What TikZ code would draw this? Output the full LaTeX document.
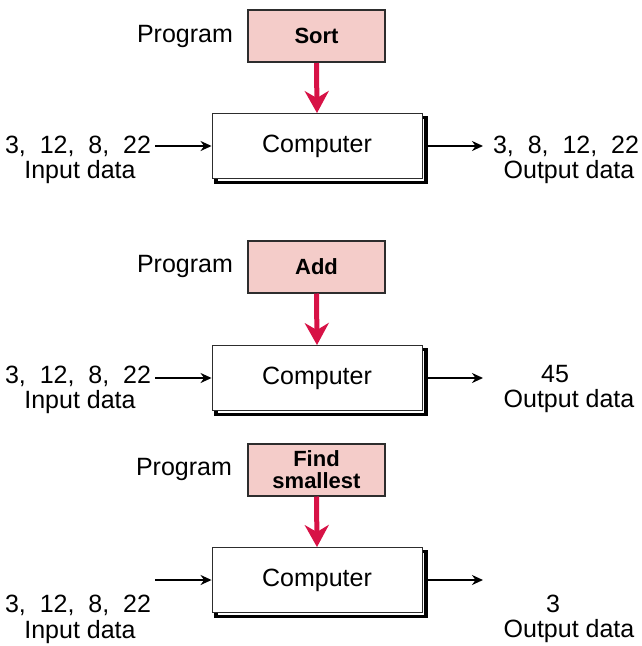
\documentclass[tikz,border=0pt]{standalone}
\usepackage{fontspec}
\setmainfont{Liberation Sans}
\usepackage{tikz}
\usetikzlibrary{arrows.meta}
\definecolor{progpink}{RGB}{244,204,201}
\definecolor{progred}{RGB}{215,18,70}
\definecolor{boxgray}{RGB}{45,45,45}

\begin{document}
\begin{tikzpicture}[x=1pt,y=-1pt]
            \tikzstyle{every node}=[font=\fontsize{25}{25}\selectfont, inner sep=2pt]
            \tikzstyle{progbox}=[draw=boxgray, line width=2pt, fill=progpink, minimum width=137pt, minimum height=52pt, align=center, font=\fontsize{22}{24}\selectfont\bfseries]
            \tikzstyle{compbox}=[draw=boxgray, line width=0.9pt, fill=white, minimum width=210pt, minimum height=65pt, preaction={draw=black, line width=3.5pt, fill=white, transform canvas={shift={(4pt,-4pt)}}}]
            \tikzstyle{progarrow}=[draw=progred, line width=5pt, -{Stealth[length=22pt,width=24pt,inset=7pt]}]
            \tikzstyle{dataarrow}=[draw=black, line width=2pt, -{Stealth[length=11pt,width=10pt]}]
            \useasboundingbox (0,0) rectangle (642,646);
            \node (proglbl1) at (185,36) {Program};
            \node [progbox] (prog1) at (316.5,36) {Sort};
            \node [compbox] (comp1) at (317,146) {Computer};
            \node (in1) at (78,146) {3,~ 12,~ 8,~ 22};
            \node (inlbl1) at (80,172) {Input data};
            \node (out1) at (566,146) {3,~ 8,~ 12,~ 22};
            \node (outlbl1) at (569,172) {Output data};
            \coordinate (inpt1) at (155,146);
            \coordinate (outpt1) at (483,146);
            \draw [progarrow] (prog1.south) -- (comp1.north);
            \draw [dataarrow] (inpt1) -- (comp1.west);
            \draw [dataarrow] ([xshift=6pt]comp1.east) -- (outpt1);
            \node (proglbl2) at (185,266) {Program};
            \node [progbox] (prog2) at (316.5,266.5) {Add};
            \node [compbox] (comp2) at (317,378) {Computer};
            \node (in2) at (78,376) {3,~ 12,~ 8,~ 22};
            \node (inlbl2) at (80,402) {Input data};
            \node (out2) at (555,374) {45};
            \node (outlbl2) at (569,401) {Output data};
            \coordinate (inpt2) at (155,378);
            \coordinate (outpt2) at (483,378);
            \draw [progarrow] (prog2.south) -- (comp2.north);
            \draw [dataarrow] (inpt2) -- (comp2.west);
            \draw [dataarrow] ([xshift=6pt]comp2.east) -- (outpt2);
            \node (proglbl3) at (184,469) {Program};
            \node [progbox] (prog3) at (316.5,469.5) {Find\\[-2pt]smallest};
            \node [compbox] (comp3) at (317,580) {Computer};
            \node (in3) at (78,605) {3,~ 12,~ 8,~ 22};
            \node (inlbl3) at (80,632) {Input data};
            \node (out3) at (553,604) {3};
            \node (outlbl3) at (569,631) {Output data};
            \coordinate (inpt3) at (155,580);
            \coordinate (outpt3) at (483,580);
            \draw [progarrow] (prog3.south) -- (comp3.north);
            \draw [dataarrow] (inpt3) -- (comp3.west);
            \draw [dataarrow] ([xshift=6pt]comp3.east) -- (outpt3);
        \end{tikzpicture}
\end{document}
